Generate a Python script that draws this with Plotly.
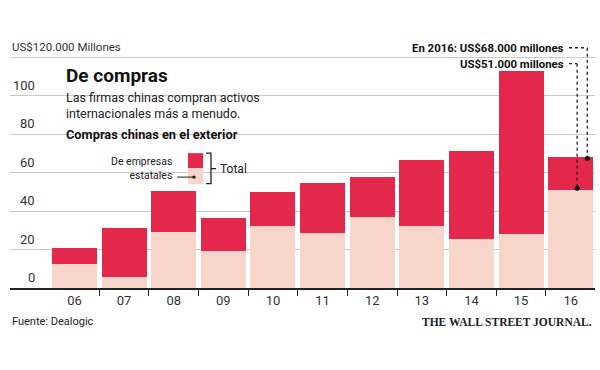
import plotly.graph_objects as go

# ---- data ----
years = ["06", "07", "08", "09", "10", "11", "12", "13", "14", "15", "16"]
total = [21, 31, 50.5, 36.5, 50, 54.5, 57.5, 66.5, 71.5, 113, 68]
state = [12.5, 5.5, 29, 19, 32.5, 28.5, 37, 32.5, 25.5, 28, 51]
y_ticks = [0, 20, 40, 60, 80, 100]
y_top_tick = 120

RED = "#E3284B"
PINK = "#F7D5CA"
SANS = "Roboto"

# ---- geometry (pixels) ----
W, H = 600, 370
L, R, T, B = 10, 595, 37.75, 288
XR = [-1.3, 10.49]
YR = [0, 130]


def X(px):
    return XR[0] + (px - L) / (R - L) * (XR[1] - XR[0])


def Y(py):
    return YR[0] + (B - py) / (B - T) * (YR[1] - YR[0])


def PX(px):
    return (px - L) / (R - L)


def PY(py):
    return (B - py) / (B - T)


idx = list(range(len(years)))
other = [t - s for t, s in zip(total, state)]

fig = go.Figure()
fig.add_trace(go.Bar(x=idx, y=state, marker=dict(color=PINK, line=dict(width=0)),
                     width=0.907, hoverinfo="skip"))
fig.add_trace(go.Bar(x=idx, y=other, marker=dict(color=RED, line=dict(width=0)),
                     width=0.907, hoverinfo="skip"))

# dummy trace on overlay axis for boundary ticks
fig.add_trace(go.Scatter(x=[XR[0]], y=[0], xaxis="x2", mode="markers",
                         marker=dict(opacity=0), hoverinfo="skip", showlegend=False))

# dots for 2016 callouts
last = len(years) - 1
dot_x = [last + 0.335, last + 0.13]
dot_y = [total[last] - 0.7, state[last] + 0.9]
fig.add_trace(go.Scatter(x=dot_x, y=dot_y, mode="markers",
                         marker=dict(color="black", size=5), hoverinfo="skip",
                         showlegend=False, cliponaxis=False))

shapes = []
# white box behind title block
shapes.append(dict(type="rect", xref="paper", yref="paper",
                   x0=PX(50), x1=PX(279), y0=PY(186), y1=PY(61),
                   fillcolor="white", line=dict(width=0), layer="between"))
# legend squares
shapes.append(dict(type="rect", xref="paper", yref="paper",
                   x0=PX(188), x1=PX(203), y0=PY(168), y1=PY(153),
                   fillcolor=RED, line=dict(width=0)))
shapes.append(dict(type="rect", xref="paper", yref="paper",
                   x0=PX(188), x1=PX(203), y0=PY(184), y1=PY(168),
                   fillcolor=PINK, line=dict(width=0)))
# bracket
brk = dict(color="#222", width=1.3)
shapes.append(dict(type="path", xref="paper", yref="paper",
                   path=f"M {PX(206)} {PY(153)} L {PX(211)} {PY(153)} L {PX(211)} {PY(183.5)} L {PX(206)} {PY(183.5)}",
                   line=brk))
shapes.append(dict(type="line", xref="paper", yref="paper",
                   x0=PX(211), x1=PX(216), y0=PY(168.5), y1=PY(168.5), line=brk))
# legend pointer line
shapes.append(dict(type="line", xref="paper", yref="paper",
                   x0=PX(177), x1=PX(194), y0=PY(177), y1=PY(177), line=dict(color="#222", width=1)))
shapes.append(dict(type="circle", xref="paper", yref="paper",
                   x0=PX(192.3), x1=PX(195.7), y0=PY(178.7), y1=PY(175.3),
                   fillcolor="#222", line=dict(width=0)))

# callout leader lines
dot = dict(color="#222", width=1.3, dash="dot")
y1_txt = Y(47.5)
y2_txt = Y(63.5)
shapes.append(dict(type="line", xref="x", yref="y", x0=X(569), x1=dot_x[0],
                   y0=y1_txt, y1=y1_txt, line=dot))
shapes.append(dict(type="line", xref="x", yref="y", x0=dot_x[0], x1=dot_x[0],
                   y0=y1_txt, y1=dot_y[0], line=dot))
shapes.append(dict(type="line", xref="x", yref="y", x0=X(569), x1=dot_x[1],
                   y0=y2_txt, y1=y2_txt, line=dot))
shapes.append(dict(type="line", xref="x", yref="y", x0=dot_x[1], x1=dot_x[1],
                   y0=y2_txt, y1=dot_y[1], line=dot))

ann = []
# y tick labels above gridlines
for v in y_ticks:
    ann.append(dict(x=PX(37), y=v, xref="paper", yref="y", text=str(v),
                    showarrow=False, xanchor="right", yanchor="bottom", yshift=1,
                    font=dict(family=SANS, size=13, color="#333")))
ann.append(dict(x=PX(10), y=y_top_tick, xref="paper", yref="y",
                text="US$120.000 Millones", showarrow=False, xanchor="left",
                yanchor="bottom", yshift=1, font=dict(family=SANS, size=11.5, color="#333")))

# title block
ann.append(dict(x=PX(64), y=PY(75), xref="paper", yref="paper", text="<b>De compras</b>",
                showarrow=False, xanchor="left", yanchor="middle",
                font=dict(family=SANS, size=19, color="#111")))
ann.append(dict(x=PX(64), y=PY(105.5), xref="paper", yref="paper",
                text="Las firmas chinas compran activos<br>internacionales más a menudo.",
                showarrow=False, xanchor="left", yanchor="middle", align="left",
                font=dict(family=SANS, size=12.5, color="#222")))
ann.append(dict(x=PX(64), y=PY(134), xref="paper", yref="paper",
                text="<b>Compras chinas en el exterior</b>",
                showarrow=False, xanchor="left", yanchor="middle",
                font=dict(family=SANS, size=12.8, color="#111")))
# legend text
ann.append(dict(x=PX(174), y=PY(168.5), xref="paper", yref="paper",
                text="De empresas<br>estatales", showarrow=False, xanchor="right",
                yanchor="middle", align="right",
                font=dict(family=SANS, size=10.5, color="#222")))
ann.append(dict(x=PX(218), y=PY(168.5), xref="paper", yref="paper",
                text="Total", showarrow=False, xanchor="left", yanchor="middle",
                font=dict(family=SANS, size=12, color="#222")))

# callout texts
ann.append(dict(x=X(566), y=y1_txt, xref="x", yref="y",
                text="<b>En 2016: US$68.000 millones</b>", showarrow=False,
                xanchor="right", yanchor="middle",
                font=dict(family=SANS, size=11.4, color="#111")))
ann.append(dict(x=X(566), y=y2_txt, xref="x", yref="y",
                text="<b>US$51.000 millones</b>", showarrow=False,
                xanchor="right", yanchor="middle",
                font=dict(family=SANS, size=11.4, color="#111")))

# footer
ann.append(dict(x=PX(10), y=PY(322), xref="paper", yref="paper",
                text="Fuente: Dealogic", showarrow=False, xanchor="left", yanchor="middle",
                font=dict(family=SANS, size=11, color="#222")))
ann.append(dict(x=PX(594), y=PY(322), xref="paper", yref="paper",
                text="<b>THE WALL STREET JOURNAL.</b>", showarrow=False,
                xanchor="right", yanchor="middle",
                font=dict(family="Liberation Serif", size=11.5, color="#222")))

fig.update_layout(
    width=W, height=H,
    margin=dict(l=L, r=W - R, t=T, b=H - B, pad=0),
    paper_bgcolor="white", plot_bgcolor="white",
    barmode="stack", bargap=0, showlegend=False,
    shapes=shapes, annotations=ann,
    xaxis=dict(range=XR, tickvals=idx, ticktext=years, ticks="", showgrid=False,
               zeroline=False, showline=True, linecolor="#222", linewidth=1.5,
               tickfont=dict(family=SANS, size=13, color="#333"), fixedrange=True),
    xaxis2=dict(range=XR, overlaying="x", anchor="y", side="bottom",
                tickvals=[i + 0.5 for i in idx[:-1]], ticks="outside", ticklen=7,
                tickwidth=1.3, tickcolor="#222", showticklabels=False,
                showgrid=False, zeroline=False, showline=False),
    yaxis=dict(range=YR, tickvals=y_ticks + [y_top_tick], showticklabels=False,
               showgrid=True, gridcolor="#c9c9c9", gridwidth=1, zeroline=False,
               showline=False, fixedrange=True),
)

fig.write_html("out.html", config={"displayModeBar": False},
               post_script="document.body.style.margin='0';")
